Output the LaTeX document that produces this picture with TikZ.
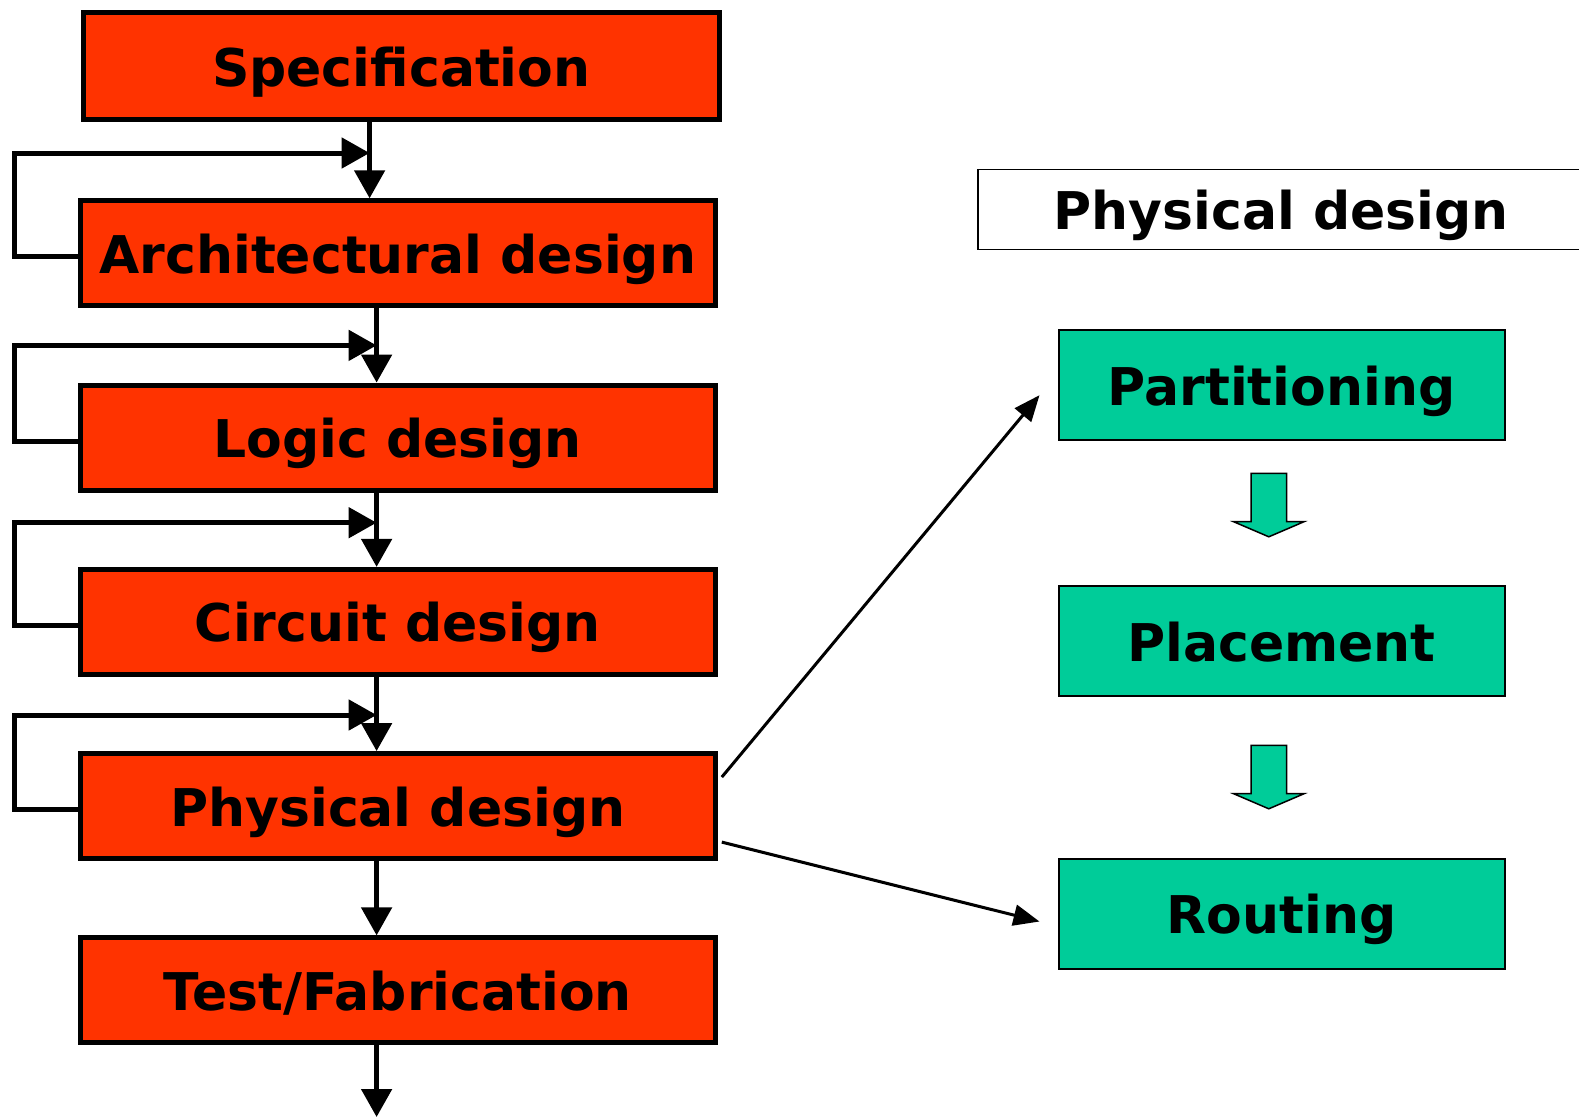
\documentclass[tikz,border=0pt]{standalone}
\usepackage{fontspec}
\setmainfont{DejaVu Sans}
\usepackage{xcolor}
\usetikzlibrary{arrows.meta,positioning,calc}

\definecolor{flowred}{HTML}{FF3300}
\definecolor{subgreen}{HTML}{00CC99}

\begin{document}
\begin{tikzpicture}[x=1pt, y=-1pt, every node/.style={font=\bfseries\fontsize{52}{60}\selectfont, text height=40pt, text depth=0pt}]
\tikzset{
  stage/.style={draw, line width=5pt, fill=flowred, minimum width=635pt, minimum height=105pt, inner sep=0pt},
  substage/.style={draw, line width=2pt, fill=subgreen, minimum width=446pt, minimum height=110pt, inner sep=0pt},
  flow/.style={line width=5pt, -{Triangle[length=28pt,width=30pt]}},
  link/.style={line width=3pt, -{Triangle[length=26pt,width=21pt]}},
  fatarrow/.style={draw, line width=1.5pt, fill=subgreen, line join=miter}
}
\useasboundingbox (0,0) rectangle (1579,1117);

% design flow
\node[stage, minimum width=636pt, minimum height=107pt] (spec) at (401.3,66) {Specification};
\node[stage] (arch) at (397.8,253.3) {Architectural design};
\node[stage] (logic) at (397.8,437.6) {Logic design};
\node[stage] (circ) at (397.8,621.9) {Circuit design};
\node[stage] (phys) at (397.8,806.1) {Physical design};
\node[stage] (test) at (397.8,990.4) {Test/Fabrication};
\coordinate (out) at (376.6,1117);

\draw[flow] (spec.south -| 369.6,0) -- (arch.north -| 369.6,0);
\foreach \a/\b in {arch/logic, logic/circ, circ/phys, phys/test}
  \draw[flow] ($(\a.south)+(-21.2,0)$) -- ($(\b.north)+(-21.2,0)$);
\draw[flow] ($(test.south)+(-21.2,0)$) -- (out);

% feedback loops
\foreach \n/\top/\x in {arch/153/369.6, logic/345.4/376.6, circ/522.7/376.6, phys/715/376.6}
  \draw[flow] ($(\n.west)+(0,3.5)$) -- ++(-63,0) |- (\x,\top);

% physical design steps
\node[draw, line width=1.5pt, minimum width=606pt, minimum height=80pt, inner sep=0pt] (pdtitle) at (1281,209.5) {Physical design};
\node[substage] (part) at (1281.5,385.2) {Partitioning};
\node[substage] (place) at (1281.5,641) {Placement};
\node[substage] (route) at (1281.5,913.5) {Routing};

\foreach \t in {473.3, 745.3}
  \draw[fatarrow, shift={(1268.8,\t)}] (-17.7,0) -- (17.7,0) -- (17.7,48.4) -- (35.2,48.4)
    -- (0,63.5) -- (-35.2,48.4) -- (-17.7,48.4) -- cycle;

\draw[link] ($(phys.east)+(4,-29)$) -- ($(part.west)+(-18,10)$);
\draw[link] ($(phys.east)+(4,36)$) -- ($(route.west)+(-18,8)$);
\end{tikzpicture}
\end{document}
